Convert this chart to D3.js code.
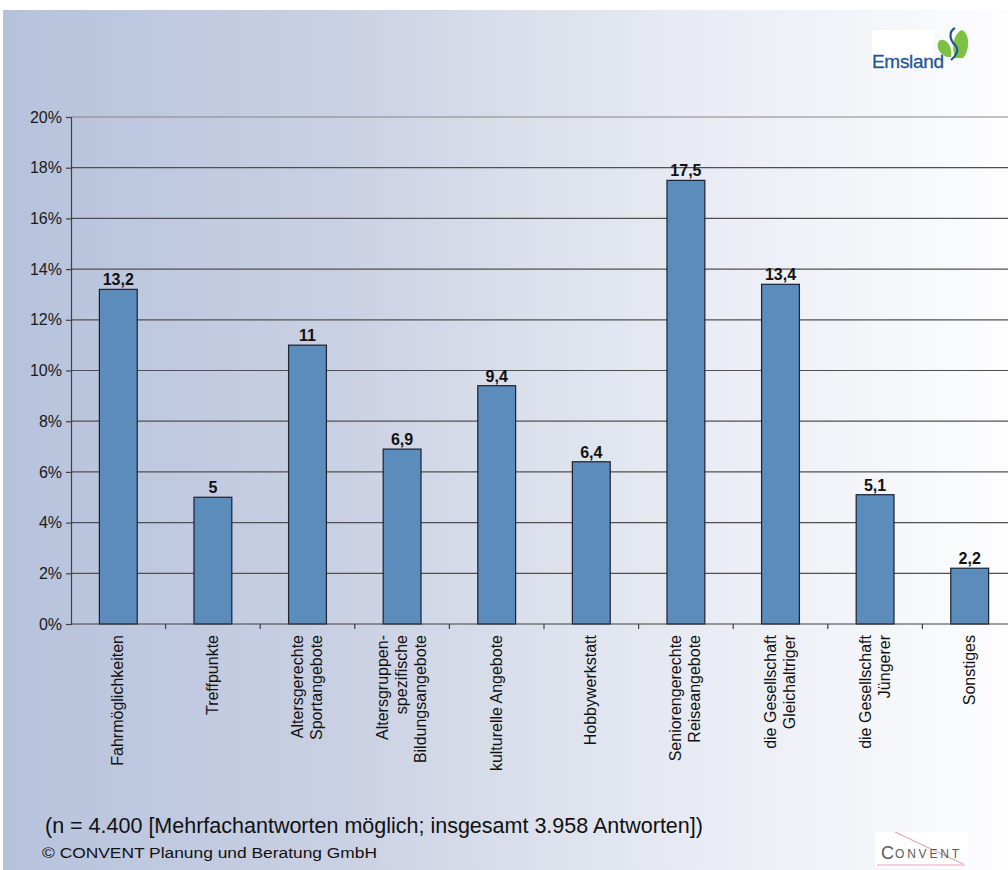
<!DOCTYPE html>
<html lang="de">
<head>
<meta charset="utf-8">
<script src="https://cdn.jsdelivr.net/npm/d3@7"></script>
<style>
  html, body { margin: 0; padding: 0; background: #ffffff; }
  svg { display: block; font-family: Arial, "Liberation Sans", Helvetica, sans-serif; }
</style>
</head>
<body>
<svg id="chart" width="1008" height="870"></svg>
<script>
// Wünsche an Freizeitangebote – Anteile der Nennungen in Prozent
const categories = [
  "Fahrmöglichkeiten",
  "Treffpunkte",
  "Altersgerechte Sportangebote",
  "Altersgruppen-spezifische Bildungsangebote",
  "kulturelle Angebote",
  "Hobbywerkstatt",
  "Seniorengerechte Reiseangebote",
  "die Gesellschaft Gleichaltriger",
  "die Gesellschaft Jüngerer",
  "Sonstiges"
];
// Zeilenumbrüche der Achsenbeschriftungen
const categoryLines = [
  ["Fahrmöglichkeiten"],
  ["Treffpunkte"],
  ["Altersgerechte", "Sportangebote"],
  ["Altersgruppen-", "spezifische", "Bildungsangebote"],
  ["kulturelle Angebote"],
  ["Hobbywerkstatt"],
  ["Seniorengerechte", "Reiseangebote"],
  ["die Gesellschaft", "Gleichaltriger"],
  ["die Gesellschaft", "Jüngerer"],
  ["Sonstiges"]
];
const values = [13.2, 5, 11, 6.9, 9.4, 6.4, 17.5, 13.4, 5.1, 2.2];
const yTicks = [0, 2, 4, 6, 8, 10, 12, 14, 16, 18, 20];
const footnote = "(n = 4.400 [Mehrfachantworten möglich; insgesamt 3.958 Antworten])";
const copyright = "© CONVENT Planung und Beratung GmbH";

const svg = d3.select("#chart");
const W = 1008, H = 870;

// Hintergrund mit horizontalem Verlauf
const defs = svg.append("defs");
const grad = defs.append("linearGradient").attr("id", "bg").attr("x1", "0").attr("x2", "1").attr("y1", "0").attr("y2", "0");
[[0, "#b6c2dc"], [0.33, "#c9d0e3"], [0.5, "#d9deea"], [0.7, "#e9ecf4"], [1, "#fdfdfe"]]
  .forEach(([o, c]) => grad.append("stop").attr("offset", o).attr("stop-color", c));
svg.append("rect").attr("x", 3).attr("y", 10).attr("width", W - 3).attr("height", H - 10).attr("fill", "url(#bg)");

// Diagramm-Bereich
const plotLeft = 71, plotRight = 1017, plotTop = 117, plotBottom = 624;
const x = d3.scaleBand().domain(categories).range([plotLeft, plotRight]).paddingInner(0.6).paddingOuter(0.3);
const y = d3.scaleLinear().domain([0, 20]).range([plotBottom, plotTop]);

// Gitternetzlinien
svg.append("g").selectAll("line").data(yTicks.filter(t => t > 0)).join("line")
  .attr("x1", plotLeft).attr("x2", W)
  .attr("y1", d => y(d)).attr("y2", d => y(d))
  .attr("stroke", d => d === 20 ? "#858585" : "#505050")
  .attr("stroke-width", 1.2);

// Y-Achse
const yAxis = d3.axisLeft(y).tickValues(yTicks).tickFormat(d => d + "%").tickSize(5).tickPadding(4);
const gy = svg.append("g").attr("transform", `translate(${plotLeft},0)`).call(yAxis);
gy.select(".domain").attr("stroke", "#404040").attr("stroke-width", 1.2);
gy.selectAll(".tick line").attr("stroke", "#404040").attr("stroke-width", 1.2);
gy.selectAll(".tick text").attr("font-size", 16).attr("fill", "#1a1a1a")
  .attr("font-family", "Arial, 'Liberation Sans', sans-serif");

// Balken
svg.append("g").selectAll("rect").data(values).join("rect")
  .attr("x", (d, i) => x(categories[i]))
  .attr("y", d => y(d))
  .attr("width", x.bandwidth())
  .attr("height", d => y(0) - y(d))
  .attr("fill", "#5b8cbb")
  .attr("stroke", "#1b2230")
  .attr("stroke-width", 1.2);

// Wertbeschriftungen
svg.append("g").selectAll("text").data(values).join("text")
  .attr("x", (d, i) => x(categories[i]) + x.bandwidth() / 2)
  .attr("y", d => y(d) - 4)
  .attr("text-anchor", "middle")
  .attr("font-size", 16).attr("font-weight", "bold").attr("fill", "#111")
  .text(d => String(d).replace(".", ","));

// X-Achse mit Teilstrichen zwischen den Kategorien
svg.append("line").attr("x1", plotLeft).attr("x2", W).attr("y1", plotBottom).attr("y2", plotBottom)
  .attr("stroke", "#404040").attr("stroke-width", 1.2);
const step = x.step();
svg.append("g").selectAll("line").data(d3.range(1, categories.length)).join("line")
  .attr("x1", i => plotLeft + i * step).attr("x2", i => plotLeft + i * step)
  .attr("y1", plotBottom).attr("y2", plotBottom + 5)
  .attr("stroke", "#404040").attr("stroke-width", 1.2);

// Kategorienbeschriftungen (senkrecht)
const lineGap = 19;
const catG = svg.append("g").selectAll("g").data(categories).join("g")
  .attr("transform", d => `translate(${x(d) + x.bandwidth() / 2},${plotBottom + 11}) rotate(-90)`);
catG.each(function (d, i) {
  const lines = categoryLines[i];
  const n = lines.length;
  d3.select(this).selectAll("text").data(lines).join("text")
    .attr("x", 0)
    .attr("y", (l, j) => (j - (n - 1) / 2) * lineGap + 5)
    .attr("text-anchor", "end")
    .attr("font-size", 16).attr("fill", "#111")
    .text(l => l);
});

// Fußnote und Copyright
svg.append("text").attr("x", 45).attr("y", 833).attr("font-size", 21.5).attr("fill", "#111").text(footnote);
svg.append("text").attr("x", 42).attr("y", 858).attr("font-size", 14).attr("fill", "#111")
  .attr("textLength", 335).attr("lengthAdjust", "spacingAndGlyphs").text(copyright);

// Logo Emsland
const em = svg.append("g");
em.append("rect").attr("x", 872).attr("y", 30).attr("width", 62).attr("height", 40).attr("fill", "#ffffff");
em.append("text").attr("x", 872).attr("y", 68).attr("font-size", 19).attr("fill", "#1f5596")
  .attr("letter-spacing", -0.3).attr("stroke", "#1f5596").attr("stroke-width", 0.3).text("Emsland");
em.append("path").attr("d", "M947,57 C938,54 935,44 940,40 C947,38 953,48 951,57 Z").attr("fill", "#7cc142");
em.append("path").attr("d", "M955,58 C951,46 954,33 962,30 C970,34 970,50 963,58 Z").attr("fill", "#7cc142");
em.append("path").attr("d", "M955,28 C948,32 950,40 955,45 C960,50 956,56 951,60").attr("fill", "none")
  .attr("stroke", "#1f5596").attr("stroke-width", 2.2);

// Logo CONVENT
const cv = svg.append("g");
cv.append("rect").attr("x", 875).attr("y", 832).attr("width", 93).attr("height", 36).attr("fill", "#ffffff");
cv.append("line").attr("x1", 895).attr("y1", 832).attr("x2", 963).attr("y2", 864).attr("stroke", "#e4a6b6").attr("stroke-width", 1.2);
cv.append("line").attr("x1", 877).attr("y1", 865).attr("x2", 965).attr("y2", 865).attr("stroke", "#e4a6b6").attr("stroke-width", 1.2);
cv.append("text").attr("x", 881).attr("y", 859).attr("font-size", 18).attr("fill", "#5a5a5a").text("C");
cv.append("text").attr("x", 895).attr("y", 858).attr("font-size", 12).attr("fill", "#5a5a5a")
  .attr("letter-spacing", 2.8).text("ONVENT");
</script>
</body>
</html>
